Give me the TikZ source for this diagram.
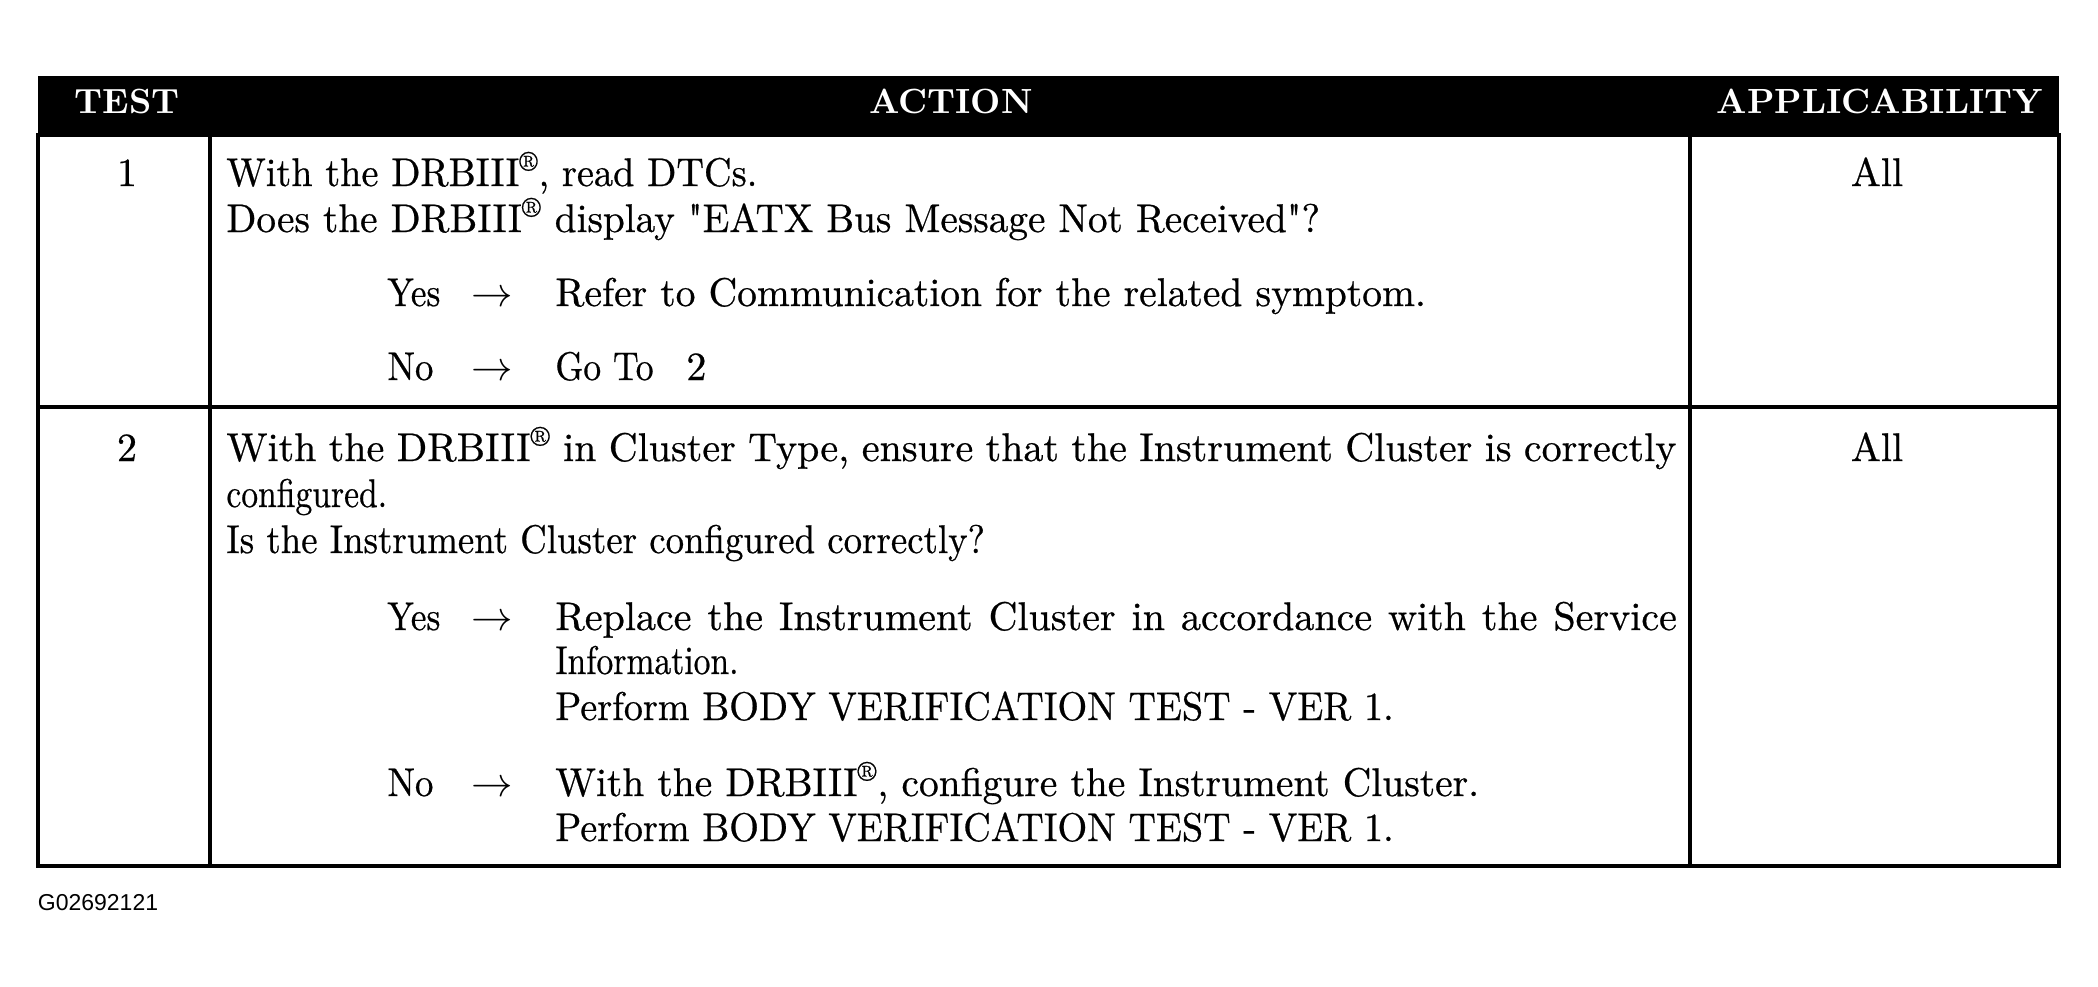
\documentclass[tikz,border=0pt]{standalone}
\usepackage{fontspec}
\usepackage{graphicx}
\newfontfamily\bodyfam{lmroman10-regular}[Extension=.otf,FakeBold=0.6]
\newfontfamily\headfam{lmroman10-bold}[Extension=.otf]
\newfontfamily\labfont{Liberation Sans}
\newcommand\bodyf{\bodyfam\fontsize{20}{24}\selectfont}
\newcommand\regm{\textsuperscript{®}}
\newcommand\arr{$\rightarrow$}
\newcommand\sx[2]{\scalebox{#1}[1]{#2}}
\begin{document}
\begin{tikzpicture}[x=0.5pt,y=-0.5pt,
  txt/.style={anchor=base west,inner sep=0pt,font=\bodyf},
  ctxt/.style={anchor=base,inner sep=0pt,font=\bodyf},
  arrtxt/.style={anchor=base,inner sep=0pt,font=\bodyf},
  head/.style={anchor=base,inner sep=0pt,text=white,font=\headfam\fontsize{17.5}{21}\selectfont},
  rule/.style={line width=2pt},
  lab/.style={anchor=west,inner sep=0pt,font=\labfont\fontsize{11.5}{13}\selectfont}]
\useasboundingbox (0,0) rectangle (2098,986);
% frame coordinates
\coordinate (tl) at (37.5,76);
\coordinate (hbr) at (2059,135);
\coordinate (br) at (2059,866);
\coordinate (c1t) at (210,135);
\coordinate (c1b) at (210,866);
\coordinate (c2t) at (1690,135);
\coordinate (c2b) at (1690,866);
\coordinate (r1l) at (37.5,407);
\coordinate (r1r) at (2059,407);
\coordinate (hbl) at (37.5,135);
% header
\fill[black] (tl) rectangle (hbr);
\draw[rule] (hbl) rectangle (br);
\draw[rule] (c1t) -- (c1b);
\draw[rule] (c2t) -- (c2b);
\draw[rule] (r1l) -- (r1r);
\node[head] (hTest) at (127,113) {TEST};
\node[head] (hAction) at (951,113) {ACTION};
\node[head] (hApp) at (1880,113) {APPLICABILITY};
% row 1
\node[ctxt] (n1) at (127,186) {1};
\node[txt] (a1) at (226,186) {\sx{0.957}{With the DRBIII\regm, read DTCs.}};
\node[txt] (a2) at (226,232) {\sx{0.981}{Does the DRBIII\regm{} display \textquotedbl EATX Bus Message Not Received\textquotedbl?}};
\node[txt] (y1) at (387,306) {\sx{0.88}{Yes}};
\node[arrtxt] (ya1) at (492,306) {\arr};
\node[txt] (y1t) at (555,306) {\sx{0.988}{Refer to Communication for the related symptom.}};
\node[txt] (n1l) at (387,380) {\sx{0.92}{No}};
\node[arrtxt] (na1) at (492,380) {\arr};
\node[txt] (n1t) at (555,380) {\makebox[65.5pt][l]{\sx{0.89}{Go To}}2};
\node[ctxt] (all1) at (1877,186) {All};
% row 2
\node[ctxt] (n2) at (127,461) {2};
\node[txt] (b1) at (226,461) {\makebox[725pt][s]{With the DRBIII\regm{} in Cluster Type, ensure that the Instrument Cluster is correctly}};
\node[txt] (b2) at (226,507) {\sx{0.84}{configured.}};
\node[txt] (b3) at (226,553) {\sx{0.92}{Is the Instrument Cluster configured correctly?}};
\node[txt] (y2) at (387,630) {\sx{0.88}{Yes}};
\node[arrtxt] (ya2) at (492,630) {\arr};
\node[txt] (y2a) at (555,630) {\makebox[560.75pt][s]{Replace the Instrument Cluster in accordance with the Service}};
\node[txt] (y2b) at (555,674) {\sx{0.84}{Information.}};
\node[txt] (y2c) at (555,720) {\sx{0.953}{Perform BODY VERIFICATION TEST - VER 1.}};
\node[txt] (n2l) at (387,796) {\sx{0.92}{No}};
\node[arrtxt] (na2) at (492,796) {\arr};
\node[txt] (n2a) at (555,796) {\sx{0.987}{With the DRBIII\regm, configure the Instrument Cluster.}};
\node[txt] (n2b) at (555,841) {\sx{0.953}{Perform BODY VERIFICATION TEST - VER 1.}};
\node[ctxt] (all2) at (1877,461) {All};
% label
\node[lab] (code) at (37.5,903) {G02692121};
\end{tikzpicture}
\end{document}
